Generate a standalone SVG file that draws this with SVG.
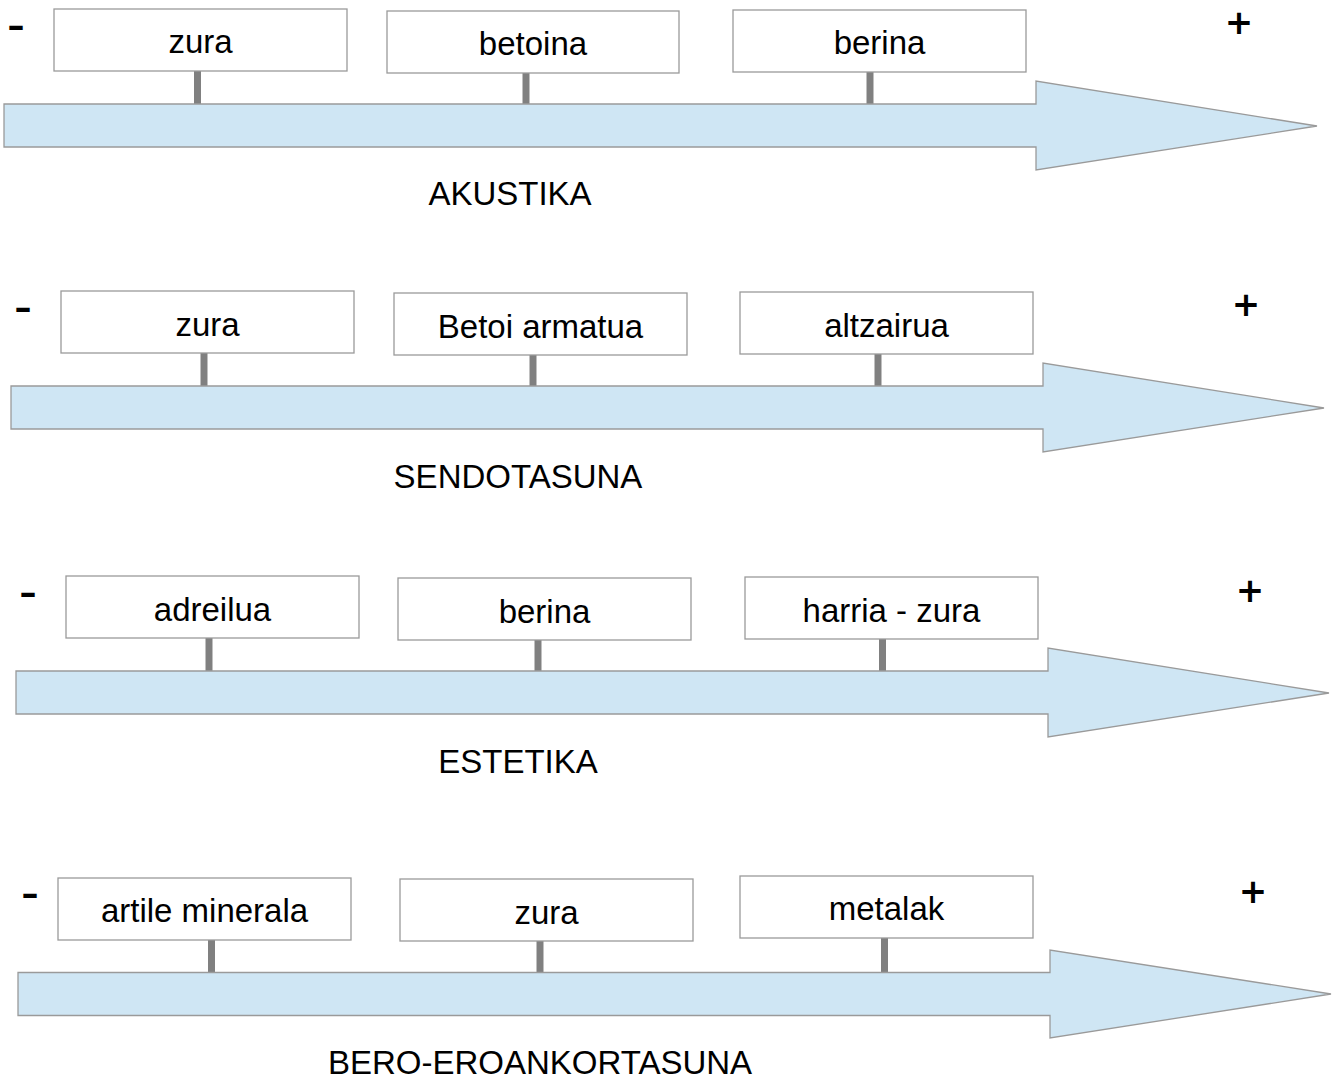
<svg xmlns="http://www.w3.org/2000/svg" width="1333" height="1082" viewBox="0 0 1333 1082">
<style>
.arrow{fill:#cfe6f4;stroke:#9a9a9a;stroke-width:1.3}
.box{fill:#ffffff;stroke:#9a9a9a;stroke-width:1.3}
.stem{stroke:#808080;stroke-width:7}
.t{font-family:"Liberation Sans",Arial,sans-serif;font-size:33px;fill:#000;text-anchor:middle}
.sign{font-family:"DejaVu Sans",sans-serif;font-weight:bold;fill:#000;text-anchor:middle}
.minus{font-size:34px}
.plus{font-size:34px}
</style>
<rect width="1333" height="1082" fill="#ffffff"/>

<g id="connectors">
  <line class="stem" x1="197.5" y1="71" x2="197.5" y2="104"/>
  <line class="stem" x1="526" y1="73" x2="526" y2="104"/>
  <line class="stem" x1="870" y1="72" x2="870" y2="104"/>
  <line class="stem" x1="204" y1="353" x2="204" y2="386"/>
  <line class="stem" x1="533" y1="355" x2="533" y2="386"/>
  <line class="stem" x1="878" y1="354" x2="878" y2="386"/>
  <line class="stem" x1="209" y1="638" x2="209" y2="671"/>
  <line class="stem" x1="538" y1="640" x2="538" y2="671"/>
  <line class="stem" x1="882.5" y1="639" x2="882.5" y2="671"/>
  <line class="stem" x1="211.5" y1="940" x2="211.5" y2="972"/>
  <line class="stem" x1="540" y1="941" x2="540" y2="972"/>
  <line class="stem" x1="884.5" y1="938" x2="884.5" y2="972"/>
</g>

<g id="row1">
  <polygon id="arrow1" class="arrow" points="4,104 1036,104 1036,81 1317,126 1036,170 1036,147 4,147"/>
  <text class="sign minus" x="16" y="37">–</text>
  <text class="sign plus" x="1239" y="34">+</text>
  <g id="r1b1"><rect class="box" x="54" y="9" width="293" height="62"/><text class="t" x="200.5" y="53">zura</text></g>
  <g id="r1b2"><rect class="box" x="387" y="11" width="292" height="62"/><text class="t" x="533" y="55">betoina</text></g>
  <g id="r1b3"><rect class="box" x="733" y="10" width="293" height="62"/><text class="t" x="879.5" y="54">berina</text></g>
  <text id="label1" class="t" x="510" y="205">AKUSTIKA</text>
</g>

<g id="row2">
  <polygon id="arrow2" class="arrow" points="11,386 1043,386 1043,363 1324,408 1043,452 1043,429 11,429"/>
  <text class="sign minus" x="23" y="319">–</text>
  <text class="sign plus" x="1246" y="316">+</text>
  <g id="r2b1"><rect class="box" x="61" y="291" width="293" height="62"/><text class="t" x="207.5" y="336">zura</text></g>
  <g id="r2b2"><rect class="box" x="394" y="293" width="293" height="62"/><text class="t" x="540.5" y="338">Betoi armatua</text></g>
  <g id="r2b3"><rect class="box" x="740" y="292" width="293" height="62"/><text class="t" x="886.5" y="337">altzairua</text></g>
  <text id="label2" class="t" x="518" y="488">SENDOTASUNA</text>
</g>

<g id="row3">
  <polygon id="arrow3" class="arrow" points="16,671 1048,671 1048,648 1329,693 1048,737 1048,714 16,714"/>
  <text class="sign minus" x="28" y="604">–</text>
  <text class="sign plus" x="1250" y="602">+</text>
  <g id="r3b1"><rect class="box" x="66" y="576" width="293" height="62"/><text class="t" x="212.5" y="621">adreilua</text></g>
  <g id="r3b2"><rect class="box" x="398" y="578" width="293" height="62"/><text class="t" x="544.5" y="623">berina</text></g>
  <g id="r3b3"><rect class="box" x="745" y="577" width="293" height="62"/><text class="t" x="891.5" y="622">harria - zura</text></g>
  <text id="label3" class="t" x="518" y="773">ESTETIKA</text>
</g>

<g id="row4">
  <polygon id="arrow4" class="arrow" points="18,972.5 1050,972.5 1050,950 1331,994 1050,1038 1050,1015.5 18,1015.5"/>
  <text class="sign minus" x="30" y="905">–</text>
  <text class="sign plus" x="1253" y="903">+</text>
  <g id="r4b1"><rect class="box" x="58" y="878" width="293" height="62"/><text class="t" x="204.5" y="922">artile minerala</text></g>
  <g id="r4b2"><rect class="box" x="400" y="879" width="293" height="62"/><text class="t" x="546.5" y="924">zura</text></g>
  <g id="r4b3"><rect class="box" x="740" y="876" width="293" height="62"/><text class="t" x="886.5" y="920">metalak</text></g>
  <text id="label4" class="t" x="540" y="1074">BERO-EROANKORTASUNA</text>
</g>
</svg>
